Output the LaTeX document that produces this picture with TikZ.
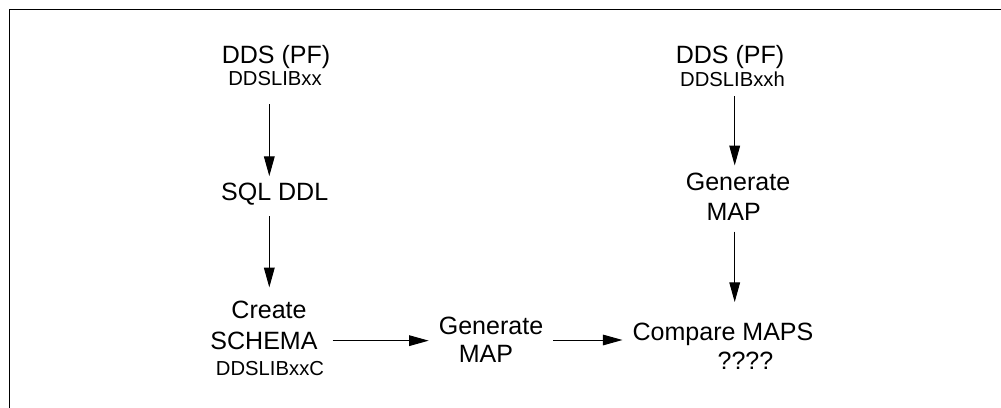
\documentclass[tikz,border=0pt]{standalone}
\usepackage{fontspec}
\setmainfont{Liberation Sans}
\usetikzlibrary{arrows.meta}
\tikzset{
  lbl/.style={anchor=base, inner xsep=7pt, inner ysep=5pt, text height=12.3pt, text depth=0pt,
    font=\fontsize{17.8}{21}\selectfont},
  sublbl/.style={lbl, text height=10pt, font=\fontsize{14.4}{17}\selectfont},
  flow/.style={->, line width=0.7pt},
  frame/.style={line width=1.1pt}
}

\begin{document}
\begin{tikzpicture}[x=0.025cm, y=-0.025cm, >={Triangle[length=14pt,width=7.6pt]}]
  \useasboundingbox (0,0) rectangle (1001,408);
  \draw[frame] (9.3,408) -- (9.3,9.3) -- (1001,9.3);
  \coordinate (colA) at (269.3,0);
  \coordinate (colB) at (734.7,0);
  % left column
  \node[lbl] (ddsA) at (276,63) {DDS (PF)};
  \node[sublbl] (libA) at (275,85.7) {DDSLIBxx};
  \node[lbl] (sqlA) at (274.7,200.7) {SQL DDL};
  \node[lbl] (createA) at (269,318.3) {Create};
  \node[lbl] (schemaA) at (264,349.3) {SCHEMA};
  \node[sublbl] (libC) at (270,375.3) {DDSLIBxxC};
  % middle
  \node[lbl] (genB) at (491,334.3) {Generate};
  \node[lbl] (mapB) at (486,362.7) {MAP};
  % right column
  \node[lbl] (ddsB) at (730,63) {DDS (PF)};
  \node[sublbl] (libB) at (732.5,86) {DDSLIBxxh};
  \node[lbl] (genC) at (738,190) {Generate};
  \node[lbl] (mapC) at (733.7,220) {MAP};
  \node[lbl] (cmp) at (723,340) {Compare MAPS};
  \node[lbl] (qq) at (745.5,369.3) {????};
  % arrows
  \draw[flow, shorten <=8pt] (libA.south -| colA) -- (sqlA.north -| colA);
  \draw[flow, shorten <=6pt, shorten >=4.5pt] (sqlA.south -| colA) -- (createA.north -| colA);
  \draw[flow, shorten <=3.5pt] (schemaA.east) -- (schemaA.east -| genB.west);
  \draw[flow] (genB.east |- cmp.base) -- (cmp.base west);
  \draw[flow, shorten <=2pt] (libB.south -| colB) -- (genC.north -| colB);
  \draw[flow, shorten <=3pt, shorten >=9.5pt] (mapC.south -| colB) -- (cmp.north -| colB);
\end{tikzpicture}
\end{document}
